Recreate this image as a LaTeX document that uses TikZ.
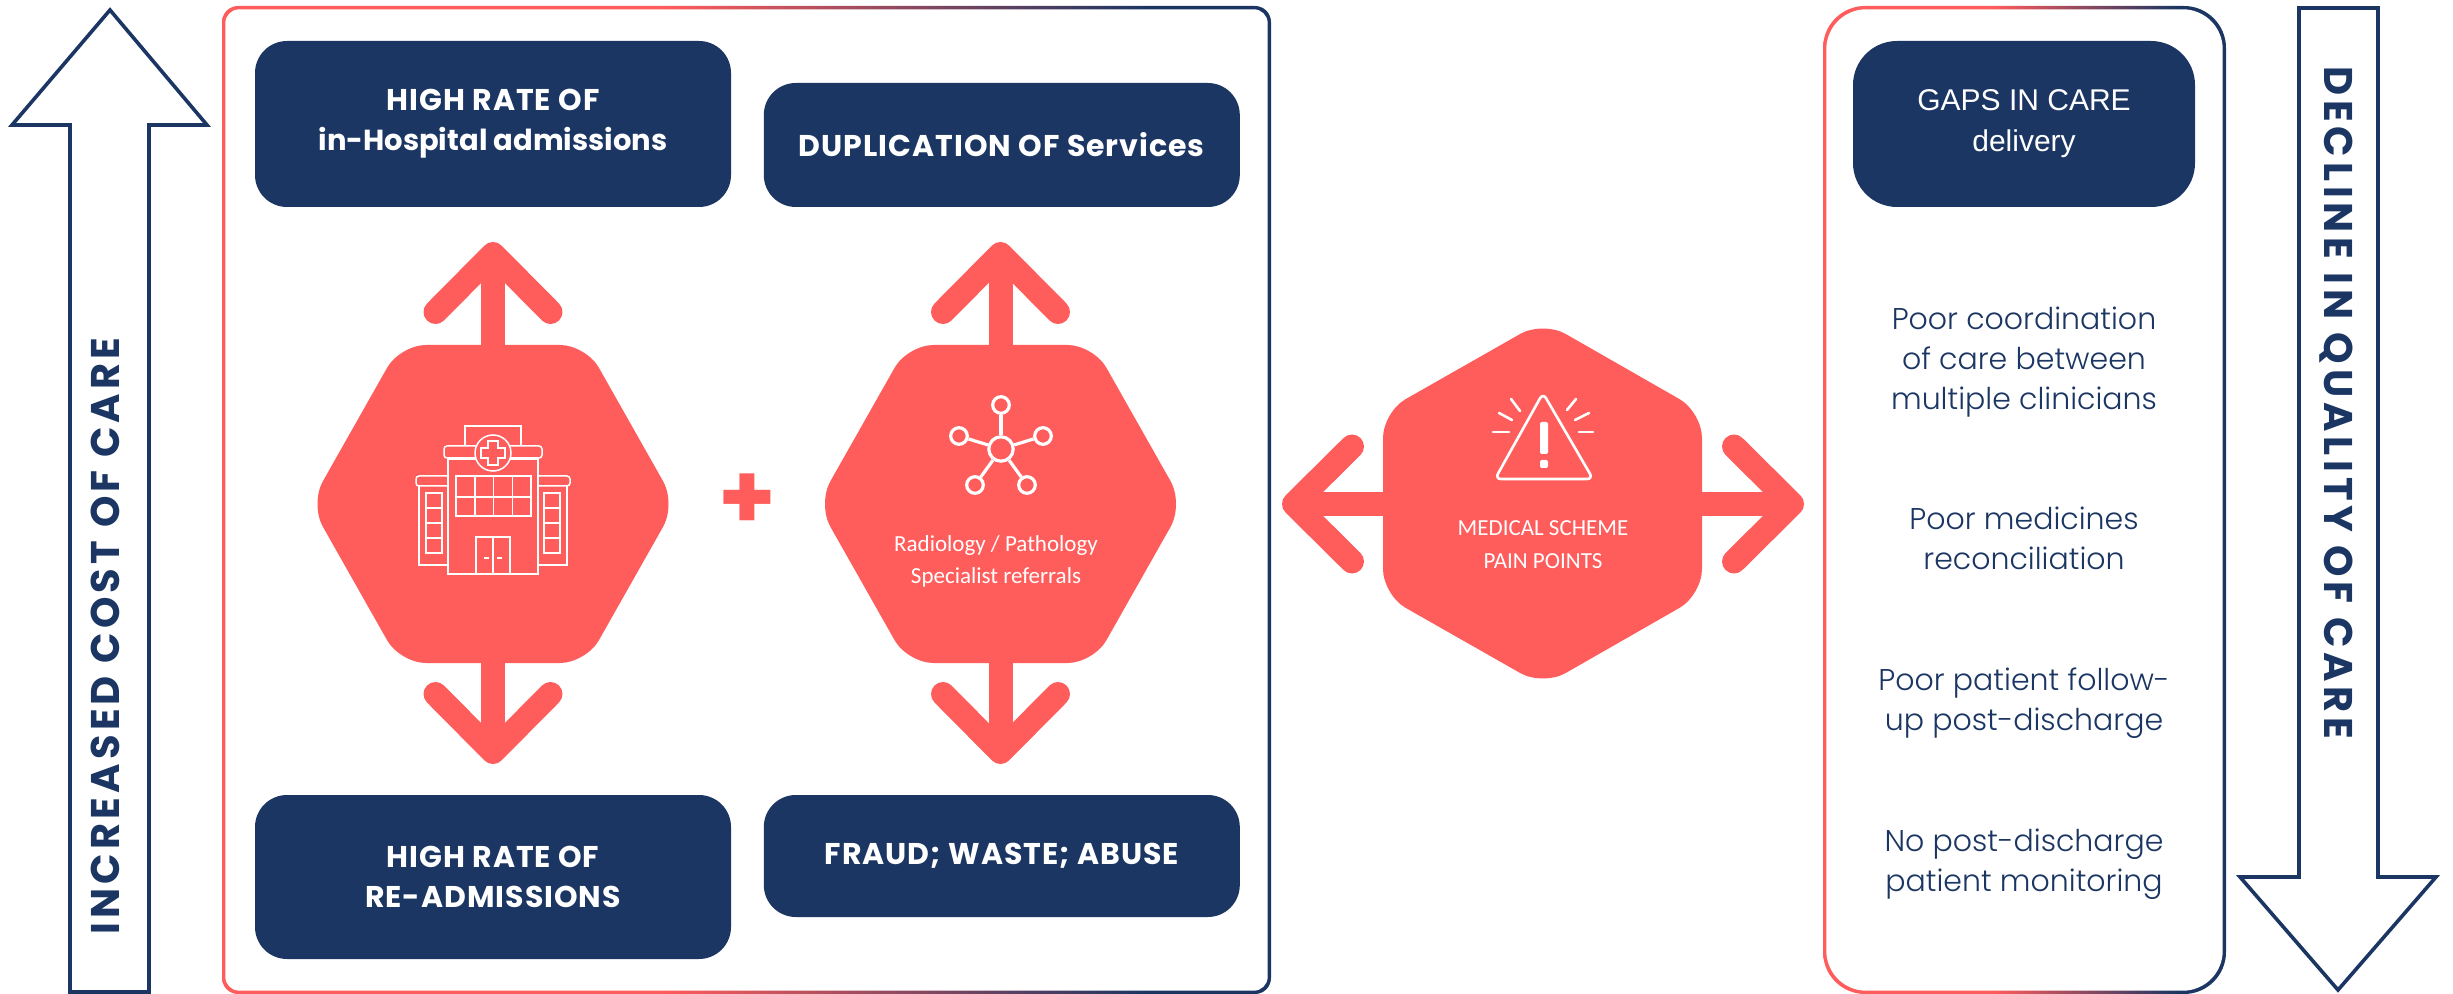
\documentclass[tikz,border=0pt]{standalone}
\usepackage{fontspec}
\usetikzlibrary{positioning, arrows.meta, shapes.geometric}
\setmainfont{Poppins}
\newfontfamily\listfont{Poppins Light}
\newfontfamily\sidefont[LetterSpace=10.5]{Poppins}
\newfontfamily\qualityfont[LetterSpace=12.1]{Poppins}
\newfontfamily\capsfont[LetterSpace=3.3]{Poppins}
\newfontfamily\plainfont{Poppins}
\newfontfamily\iconfont{Carlito}
\newfontfamily\gapfont{Liberation Sans}
\definecolor{navyblue}{HTML}{1B3663}
\definecolor{coral}{HTML}{FF5C5C}
\pgfdeclarehorizontalshading{framegrad}{100bp}{color(0bp)=(coral); color(46bp)=(coral); color(69bp)=(navyblue); color(100bp)=(navyblue)}

\begin{document}
\begin{tikzpicture}[
    x=0.5pt, y=-0.5pt,
    navybox/.style={rectangle, fill=navyblue, text=white, rounded corners=16pt, minimum width=238pt, align=center, font=\capsfont\fontsize{15}{20}\selectfont\bfseries},
    framebox/.style={rectangle, shading=framegrad, inner sep=0pt},
    frameinner/.style={rectangle, fill=white, inner sep=0pt},
    sidearrow/.style={draw=navyblue, line width=1.8pt, fill=white, miter limit=10},
    spread/.style={coral, line width=12pt, -{Straight Barb[length=29pt, width=57.5pt, line width=12pt, round]}},
    hexfill/.style={fill=coral, rounded corners=13pt},
    listtext/.style={text=navyblue, align=center, font=\listfont\fontsize{15}{20}\selectfont},
    hextext/.style={text=white, align=center, font=\iconfont\fontsize{11.5}{16}\selectfont},
    sidetext/.style={text=navyblue, font=\sidefont\bfseries\fontsize{20}{24}\selectfont},
    iconline/.style={draw=white, line width=0.75pt},
    satnode/.style={circle, draw=white, line width=1.6pt, fill=coral, minimum size=8.3pt, inner sep=0pt}
]
\useasboundingbox (0,0) rectangle (2453,994);

% Side arrows
\draw[sidearrow] (70,992) -- (70,125) -- (12,125) -- (110,10) -- (207,125) -- (149,125) -- (149,992) -- cycle;
\draw[sidearrow] (2299,8) -- (2378,8) -- (2378,877) -- (2436,877) -- (2338,990) -- (2240,877) -- (2299,877) -- cycle;
\node[sidetext, rotate=90] (costlabel) at (105,636) {INCREASED COST OF CARE};
\node[sidetext, rotate=-90, font=\qualityfont\bfseries\fontsize{20}{24}\selectfont] (qualitylabel) at (2336,403) {DECLINE IN QUALITY OF CARE};

% Frames
\node[framebox, rounded corners=8pt, minimum width=524.5pt, minimum height=494pt] (costframe) at (746.5,500) {};
\node[frameinner, rounded corners=7pt, minimum width=521.2pt, minimum height=490.7pt] at (costframe.center) {};
\node[framebox, rounded corners=21pt, minimum width=201.5pt, minimum height=494pt] (gapframe) at (2024.5,500) {};
\node[frameinner, rounded corners=20pt, minimum width=198.2pt, minimum height=490.7pt] at (gapframe.center) {};

% Boxes
\node[navybox, minimum height=83pt] (hightop) at (493,124) {HIGH RATE OF\\{\plainfont\bfseries\fontsize{14.5}{20}\selectfont in-Hospital admissions}};
\node[navybox, minimum height=62pt, right=16pt of hightop.south east, anchor=south west] (duplic) {DUPLICATION OF Services};
\node[navybox, minimum height=82pt] (highlow) at (493,877) {HIGH RATE OF\\RE-ADMISSIONS};
\node[navybox, minimum height=61pt, right=16pt of highlow.north east, anchor=north west] (fraud) {FRAUD; WASTE; ABUSE};
\node[navybox, rounded corners=22pt, minimum width=171pt, minimum height=83pt, font=\gapfont\fontsize{15}{20.5}\selectfont] (gaps) at (2024,124) {GAPS IN CARE\\delivery};

% Hexagon centres and arrow ends
\coordinate (hosp) at (493,504);
\coordinate (hosp_up) at (493,242);
\coordinate (hosp_down) at (493,764);
\coordinate (net) at (1000.5,504);
\coordinate (net_up) at (1000.5,242);
\coordinate (net_down) at (1000.5,764);
\coordinate (pain) at (1543,504);
\coordinate (pain_left) at (1282,504);
\coordinate (pain_right) at (1804,504);

% Arrows
\draw[spread] (hosp) -- (hosp_up);
\draw[spread] (hosp) -- (hosp_down);
\draw[spread] (net) -- (net_up);
\draw[spread] (net) -- (net_down);
\draw[spread] (pain) -- (pain_left);
\draw[spread] (pain) -- (pain_right);

% Hexagons
\fill[hexfill] (hosp) ++(-93,-159) -- ++(186,0) -- ++(90,159) -- ++(-90,159) -- ++(-186,0) -- ++(-90,-159) -- cycle;
\fill[hexfill] (net) ++(-93,-159) -- ++(186,0) -- ++(90,159) -- ++(-90,159) -- ++(-186,0) -- ++(-90,-159) -- cycle;
\fill[hexfill] (pain) ++(0,-183) -- ++(159,91) -- ++(0,183) -- ++(-159,91) -- ++(-160,-91) -- ++(0,-183) -- cycle;

% Plus
\node[text=coral, font=\bfseries\fontsize{46}{46}\selectfont, inner sep=0pt] (plus) at (747,502) {+};

% Hospital icon
\draw[iconline] (448,459) rectangle (538,574);
\draw[iconline, rounded corners=1.5pt] (444,446) rectangle (542,458);
\draw[iconline] (465,446) -- (465,426) -- (521,426) -- (521,446);
\draw[iconline, fill=coral] (493,453) circle (18);
\draw[iconline] (488,441) -- (498,441) -- (498,448) -- (505,448) -- (505,458) -- (498,458) -- (498,465) -- (488,465) -- (488,458) -- (481,458) -- (481,448) -- (488,448) -- cycle;
\draw[iconline] (456,476) rectangle (531,516);
\foreach \i in {474.75,493.5,512.25} \draw[iconline] (\i,476) -- (\i,516);
\draw[iconline] (456,497) -- (531,497);
\draw[iconline] (476,537) rectangle (510,574) (493,537) -- (493,574);
\draw[iconline] (484,558) -- (489,558) (497,558) -- (502,558);
\foreach \a/\b/\c/\d/\e in {416/448/419/426/442, 570/538/567/544/560} {
  \draw[iconline, rounded corners=1.5pt] (\b,476) -- (\a,476) -- (\a,486) -- (\b,486);
  \draw[iconline] (\c,486) -- (\c,565) -- (\b,565);
  \draw[iconline] (\d,493) rectangle (\e,553);
  \foreach \j in {508,523,538} \draw[iconline] (\d,\j) -- (\e,\j);
}

% Network icon
\node[satnode, minimum size=12.2pt] (hub) at (1001,449) {};
\foreach \n/\px/\py in {sa/1001/405, sb/959/436, sc/1043/436, sd/975/485, se/1027/485} {
  \node[satnode] (\n) at (\px,\py) {};
  \draw[white, line width=1.6pt] (hub) -- (\n);
}
\node[hextext] (netlabel) at (996,561) {Radiology / Pathology\\Specialist referrals};

% Warning icon
\draw[draw=white, line width=1.3pt, rounded corners=3pt, line join=round] (1543,393) -- (1593,479) -- (1495,479) -- cycle;
\fill[white, rounded corners=1pt] (1540,422) rectangle (1548,454);
\fill[white, rounded corners=1pt] (1540,460) rectangle (1548,468);
\foreach \ax/\ay/\bx/\by in {1493/432/1509/432, 1499/413/1512/420, 1511/399/1520/411, 1579/432/1593/432, 1575/420/1589/413, 1567/410/1576/399}
  \draw[white, line width=1.3pt, line cap=round] (\ax,\ay) -- (\bx,\by);
\node[hextext, font=\iconfont\fontsize{11.5}{16.5}\selectfont] (painlabel) at (1543,545) {MEDICAL SCHEME\\PAIN POINTS};

% List
\node[listtext] (coord) at (2024,362) {Poor coordination\\of care between\\multiple clinicians};
\node[listtext] (medic) at (2024,538) {Poor medicines\\reconciliation};
\node[listtext] (follow) at (2024,703) {Poor patient follow-\\up post-discharge};
\node[listtext] (monit) at (2024,864) {No post-discharge\\patient monitoring};

\end{tikzpicture}
\end{document}
